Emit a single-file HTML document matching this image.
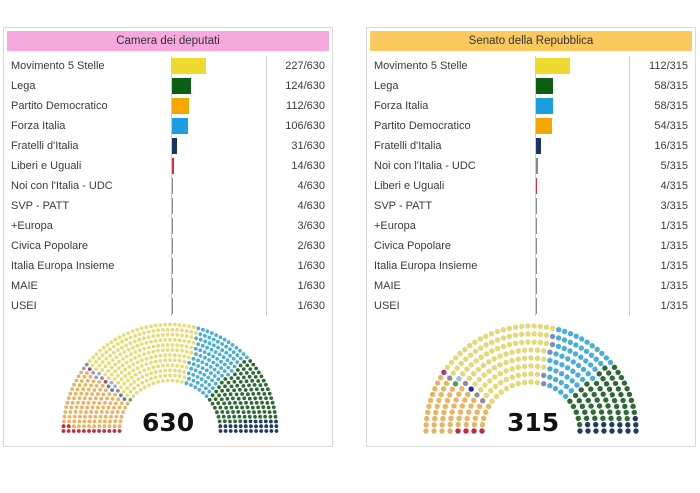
<!DOCTYPE html>
<html><head><meta charset="utf-8"><style>
body{margin:0;background:#fff;width:700px;height:493px;position:relative;overflow:hidden;font-family:"Liberation Sans",sans-serif;}
.panel{position:absolute;top:27px;width:330px;height:420px;border:1px solid #d8d8d8;box-sizing:border-box;}
.hdr{position:absolute;left:3px;right:3px;top:3px;height:20px;font-size:11.5px;text-align:center;line-height:20px;color:#333;}
.row{position:absolute;left:7px;height:20px;font-size:11px;color:#3a3a3a;line-height:20px;width:318px;}
.row .v{position:absolute;right:4px;top:0;}
.row .b{position:absolute;top:2px;height:16px;}
.sep{position:absolute;width:1px;background:#ccc;}
.num{position:absolute;font-weight:bold;font-size:25px;color:#111;font-family:"DejaVu Sans","Liberation Sans",sans-serif;}
</style></head><body>
<div class="panel" style="left:3px" id="p1"><div class="hdr" style="background:#f7a8df">Camera dei deputati</div>
<div class="sep" style="left:167px;top:28px;height:260px"></div><div class="sep" style="left:262px;top:28px;height:260px"></div>
<div class="num" style="left:138px;top:380px">630</div></div>
<div class="panel" style="left:366px" id="p2"><div class="hdr" style="background:#fbc95e">Senato della Repubblica</div>
<div class="sep" style="left:168px;top:28px;height:260px"></div><div class="sep" style="left:262px;top:28px;height:260px"></div>
<div class="num" style="left:140px;top:380px">315</div></div>
<svg id="s" width="700" height="493" style="position:absolute;left:0;top:0"></svg>
<script>
var C={y:"#eeda2e",g:"#0b5e12",o:"#f5a600",b:"#1c9ee0",n:"#1b3560",r:"#d03040",m:"#888"};
var cam=[["Movimento 5 Stelle",227,"y"],["Lega",124,"g"],["Partito Democratico",112,"o"],["Forza Italia",106,"b"],["Fratelli d'Italia",31,"n"],["Liberi e Uguali",14,"r"],["Noi con l'Italia - UDC",4,"m"],["SVP - PATT",4,"m"],["+Europa",3,"m"],["Civica Popolare",2,"m"],["Italia Europa Insieme",1,"m"],["MAIE",1,"m"],["USEI",1,"m"]];
var sen=[["Movimento 5 Stelle",112,"y"],["Lega",58,"g"],["Forza Italia",58,"b"],["Partito Democratico",54,"o"],["Fratelli d'Italia",16,"n"],["Noi con l'Italia - UDC",5,"m"],["Liberi e Uguali",4,"r"],["SVP - PATT",3,"m"],["+Europa",1,"m"],["Civica Popolare",1,"m"],["Italia Europa Insieme",1,"m"],["MAIE",1,"m"],["USEI",1,"m"]];
function rows(id,d,tot,barx,sc){var p=document.getElementById(id);d.forEach(function(r,i){var e=document.createElement("div");e.className="row";e.style.top=(28+i*20)+"px";e.innerHTML=r[0]+'<span class="b" style="left:'+barx+'px;width:'+Math.max(1,Math.round(r[1]*sc))+'px;background:'+C[r[2]]+'"></span><span class="v">'+r[1]+'/'+tot+'</span>';p.appendChild(e);});}
rows("p1",cam,630,161,0.15);rows("p2",sen,315,162,0.3);
var svg=document.getElementById("s"),h="";
function hemi(cx,cy,ri,ro,nr,seq,dr){var pts=[],rs=[],sum=0;for(var k=0;k<nr;k++){var r=ri+(ro-ri)*(k+0.5)/nr;rs.push(r);sum+=r;}
var tot=seq.reduce(function(a,s){return a+s[0]},0),cnt=0;
rs.forEach(function(r,k){var n=k==nr-1?tot-cnt:Math.round(tot*r/sum);cnt+=n;for(var j=0;j<n;j++){var a=Math.PI-(n==1?0.5:j/(n-1))*Math.PI;pts.push([a,cx+r*Math.cos(a),cy-r*Math.sin(a)]);}});
pts.sort(function(a,b){return b[0]-a[0]});var i=0;seq.forEach(function(s){for(var j=0;j<s[0];j++,i++){var q=pts[i];if(q)h+='<circle cx="'+q[1].toFixed(1)+'" cy="'+q[2].toFixed(1)+'" r="'+dr+'" fill="'+s[1]+'"/>';}});}
hemi(170,431,48,109,12,[[14,"#c8283c"],[112,"#e8b464"],[4,"#6a78b0"],[3,"#9a9ac8"],[2,"#b04880"],[4,"#8890a0"],[3,"#a0b0c0"],[227,"#e8dc78"],[106,"#4aaed8"],[124,"#2e6a32"],[31,"#1f3a66"]],1.9);
hemi(531,431,45,109,8,[[4,"#c8283c"],[54,"#e8b464"],[1,"#50a050"],[3,"#8890a0"],[1,"#b03080"],[1,"#2030a0"],[1,"#8890a0"],[1,"#a0c0d8"],[112,"#e4d878"],[5,"#7890c0"],[58,"#4aaed8"],[58,"#2e6a32"],[16,"#1f3a66"]],2.7);
svg.innerHTML=h;
</script>
</body></html>
